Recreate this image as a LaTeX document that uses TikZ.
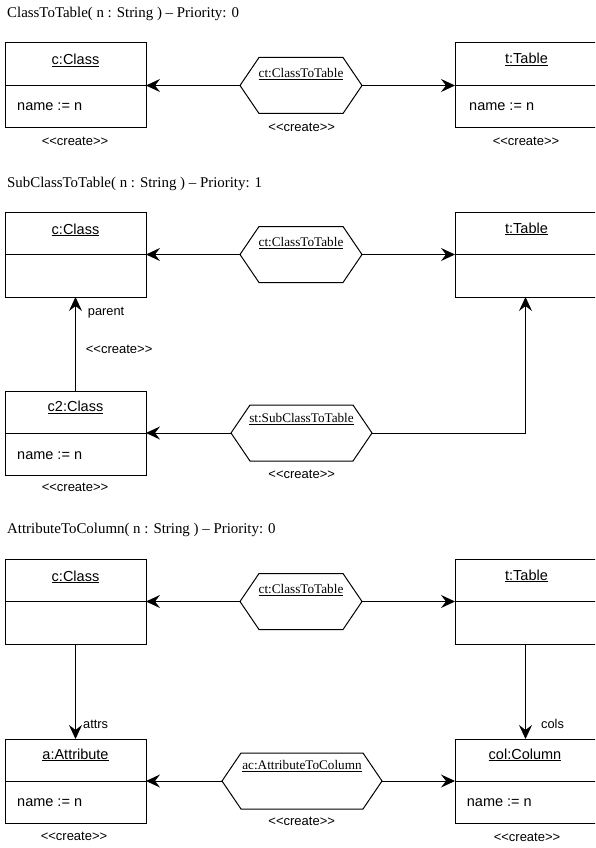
\documentclass[tikz,border=0pt]{standalone}
\usepackage{fontspec}
\setmainfont{Liberation Sans}
\newfontfamily\titlefont{Liberation Serif}
\usetikzlibrary{arrows.meta,calc}

% stereotype text; the kerns keep << and >> from turning into guillemets
\newcommand\crt{<\kern0pt<create>\kern0pt>}
% outline of a link object: a flat hexagon drawn round an invisible node
\newcommand\hexoutline[1]{%
  \draw[edge] (#1.west) -- ($(#1.north west)+(19,0)$) -- ($(#1.north east)+(-19,0)$)
    -- (#1.east) -- ($(#1.south east)+(-19,0)$) -- ($(#1.south west)+(19,0)$) -- cycle;}
% divider line between the name and the attribute part of an object box
\newcommand\divider[1]{\draw[edge] (#1.west) -- (#1.east);}

\begin{document}
\begin{tikzpicture}[x=1pt,y=-1pt,
  objbox/.style={draw, line width=1pt, minimum width=141pt, minimum height=85pt,
    inner sep=0pt, outer sep=0pt},
  hexbox/.style={inner sep=0pt, outer sep=0pt, minimum height=56pt},
  heading/.style={anchor=base west, inner sep=0pt, font=\titlefont\fontsize{14.9}{16}\selectfont},
  objname/.style={anchor=base, inner sep=0pt, font=\fontsize{14.5}{16}\selectfont},
  slot/.style={anchor=base west, inner sep=0pt, font=\fontsize{14.5}{16}\selectfont},
  stereo/.style={anchor=base, inner sep=0pt, font=\fontsize{13}{15}\selectfont},
  rolelbl/.style={anchor=base west, inner sep=0pt, font=\fontsize{12.8}{15}\selectfont},
  hexname/.style={anchor=base, inner sep=0pt, font=\titlefont\fontsize{13.2}{15}\selectfont},
  edge/.style={line width=1pt},
  link/.style={line width=1pt, -{Stealth[length=14pt,width=13pt,inset=5pt]}}
]
\clip (0,0) rectangle (595,848);
\fill[white] (0,0) rectangle (595,848);

% ---------------- ClassToTable ----------------
\node[heading] (h1) at (7,18) {ClassToTable( n : String ) – Priority: 0};

\node[objbox] (c1) at (75.5,85.5) {};
\divider{c1}
\node[objname] (c1n) at (75.5,65) {\underline{c:Class}};
\node[slot] (c1a) at (17,111) {name := n};
\node[stereo] (c1s) at (75,145) {\crt};

\node[objbox] (t1) at (525.5,85.5) {};
\divider{t1}
\node[objname] (t1n) at (526.5,64) {\underline{t:Table}};
\node[slot] (t1a) at (469,111) {name := n};
\node[stereo] (t1s) at (526,145) {\crt};

\node[hexbox, minimum width=122pt] (ct1) at (301,85.5) {};
\hexoutline{ct1}
\node[hexname] (ct1n) at (301,77.3) {\underline{ct:ClassToTable}};
\node[stereo] (ct1s) at (301.7,131.7) {\crt};

\draw[link] (ct1.west) -- (c1.east);
\draw[link] (ct1.east) -- (t1.west);

% ---------------- SubClassToTable ----------------
\node[heading] (h2) at (7,187) {SubClassToTable( n : String ) – Priority: 1};

\node[objbox] (c2) at (75.5,254.5) {};
\divider{c2}
\node[objname] (c2n) at (75.5,234) {\underline{c:Class}};

\node[objbox] (t2) at (525.5,254.5) {};
\divider{t2}
\node[objname] (t2n) at (526.5,233) {\underline{t:Table}};

\node[hexbox, minimum width=122pt] (ct2) at (301,254.5) {};
\hexoutline{ct2}
\node[hexname] (ct2n) at (301,246.3) {\underline{ct:ClassToTable}};

\draw[link] (ct2.west) -- (c2.east);
\draw[link] (ct2.east) -- (t2.west);

\node[objbox, minimum height=84pt] (d2) at (75.5,433) {};
\divider{d2}
\node[objname] (d2n) at (75.5,411.7) {\underline{c2:Class}};
\node[slot] (d2a) at (17,459) {name := n};
\node[stereo] (d2s) at (75,491.7) {\crt};

\draw[link] (d2.north) -- (c2.south);
\node[rolelbl] (par) at (87.7,315) {parent};
\node[stereo, anchor=base west] (pars) at (85.7,353) {\crt};

\node[hexbox, minimum width=141pt] (st2) at (301.5,433) {};
\hexoutline{st2}
\node[hexname] (st2n) at (301.5,422.7) {\underline{st:SubClassToTable}};
\node[stereo] (st2s) at (301.7,478.3) {\crt};

\draw[link] (st2.west) -- (d2.east);
\draw[link] (st2.east) -| (t2.south);

% ---------------- AttributeToColumn ----------------
\node[heading] (h3) at (7,533) {AttributeToColumn( n : String ) – Priority: 0};

\node[objbox] (c3) at (75.5,601.5) {};
\divider{c3}
\node[objname] (c3n) at (75.5,581) {\underline{c:Class}};

\node[objbox] (t3) at (525.5,601.5) {};
\divider{t3}
\node[objname] (t3n) at (526.5,580) {\underline{t:Table}};

\node[hexbox, minimum width=122pt] (ct3) at (301,601.5) {};
\hexoutline{ct3}
\node[hexname] (ct3n) at (301,593.3) {\underline{ct:ClassToTable}};

\draw[link] (ct3.west) -- (c3.east);
\draw[link] (ct3.east) -- (t3.west);

\node[objbox, minimum height=84pt] (a3) at (75.5,781) {};
\divider{a3}
\node[objname] (a3n) at (75.5,759) {\underline{a:Attribute}};
\node[slot] (a3a) at (17,806) {name := n};
\node[stereo] (a3s) at (74,840) {\crt};

\node[objbox, minimum height=84pt] (col3) at (525.5,781) {};
\divider{col3}
\node[objname] (col3n) at (525,759) {\underline{col:Column}};
\node[slot] (col3a) at (466.7,806) {name := n};
\node[stereo] (col3s) at (527,841) {\crt};

\draw[link] (c3.south) -- (a3.north);
\node[rolelbl] (attrs) at (83,728) {attrs};
\draw[link] (t3.south) -- (col3.north);
\node[rolelbl] (cols) at (541,728) {cols};

\node[hexbox, minimum width=160pt] (ac3) at (302,781) {};
\hexoutline{ac3}
\node[hexname] (ac3n) at (302,769.3) {\underline{ac:AttributeToColumn}};
\node[stereo] (ac3s) at (301.7,825) {\crt};

\draw[link] (ac3.west) -- (a3.east);
\draw[link] (ac3.east) -- (col3.west);
\end{tikzpicture}
\end{document}
